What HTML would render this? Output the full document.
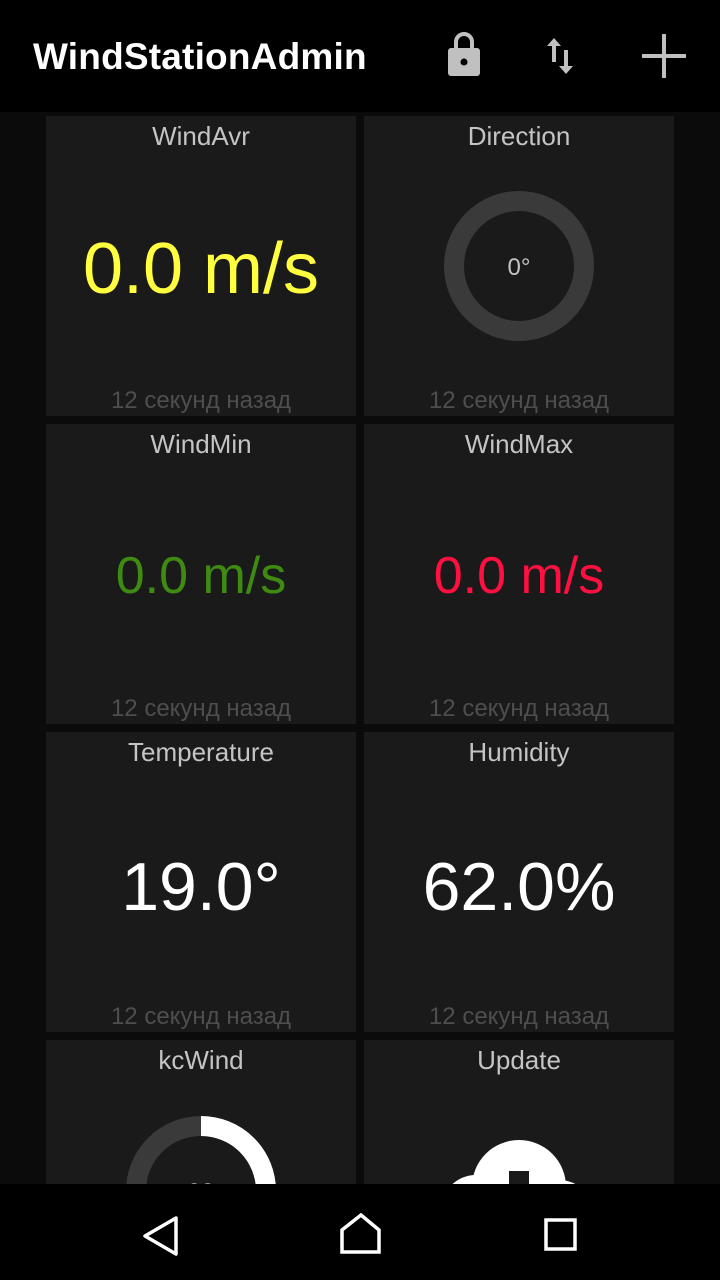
<!DOCTYPE html>
<html><head><meta charset="utf-8"><style>
html,body{margin:0;width:720px;height:1280px;overflow:hidden}
body{background:#0b0b0b;position:relative;font-family:"Liberation Sans",sans-serif}
#root{position:absolute;left:0;top:0;width:720px;height:1280px;overflow:hidden}
.top{position:absolute;left:0;top:0;width:720px;height:112px;background:#000}
.title{position:absolute;left:33px;top:36px;color:#fff;font-size:37px;font-weight:bold;letter-spacing:0.2px}
.tile{position:absolute;width:310px;height:300px;background:#1a1a1a;overflow:hidden}
.tt{position:absolute;top:5px;width:100%;text-align:center;color:#c4c4c4;font-size:26px}
.ft{position:absolute;top:271px;width:100%;text-align:center;color:#4e4e4e;font-size:24px}
.val{position:absolute;width:100%;text-align:center}
.nav{position:absolute;left:0;top:1184px;width:720px;height:96px;background:#000}
</style></head><body><div id="root">
<div class="top">
<div class="title">WindStationAdmin</div>
<svg style="position:absolute;left:440px;top:30px" width="260" height="52">
<g><path d="M16 18 v-6 a8 8 0 0 1 16 0 v6" fill="none" stroke="#c0c0c0" stroke-width="4"/><rect x="8" y="18" width="32" height="28" rx="3" fill="#c0c0c0"/><circle cx="24" cy="32" r="3.5" fill="#000"/></g>
<g fill="#c0c0c0"><path d="M114 8 l-7 8 h5 v16 h4 v-16 h5z"/><path d="M126 44 l-7 -8 h5 v-16 h4 v16 h5z"/></g>
<g fill="#c0c0c0"><rect x="222" y="4" width="4" height="44"/><rect x="202" y="24" width="44" height="4"/></g>
</svg>
</div>

<div class="tile" style="left:46px;top:116px">
<div class="tt">WindAvr</div>
<div class="val" style="top:112px;font-size:72px;color:#ffff40">0.0 m/s</div>
<div class="ft">12 секунд назад</div></div>

<div class="tile" style="left:364px;top:116px">
<div class="tt">Direction</div>
<svg style="position:absolute;left:0;top:0" width="310" height="300"><circle cx="155" cy="150" r="65" fill="none" stroke="#3a3a3a" stroke-width="20"/><text x="155" y="159" text-anchor="middle" fill="#c4c4c4" font-size="24" font-family="Liberation Sans">0°</text></svg>
<div class="ft">12 секунд назад</div></div>

<div class="tile" style="left:46px;top:424px">
<div class="tt">WindMin</div>
<div class="val" style="top:122px;font-size:52px;color:#3f8a10">0.0 m/s</div>
<div class="ft">12 секунд назад</div></div>

<div class="tile" style="left:364px;top:424px">
<div class="tt">WindMax</div>
<div class="val" style="top:122px;font-size:52px;color:#ff1040">0.0 m/s</div>
<div class="ft">12 секунд назад</div></div>

<div class="tile" style="left:46px;top:732px">
<div class="tt">Temperature</div>
<div class="val" style="top:116px;font-size:68px;color:#fff">19.0°</div>
<div class="ft">12 секунд назад</div></div>

<div class="tile" style="left:364px;top:732px">
<div class="tt">Humidity</div>
<div class="val" style="top:116px;font-size:68px;color:#fff">62.0%</div>
<div class="ft">12 секунд назад</div></div>

<div class="tile" style="left:46px;top:1040px">
<div class="tt">kcWind</div>
<svg style="position:absolute;left:0;top:0" width="310" height="300"><circle cx="155" cy="151" r="65" fill="none" stroke="#3a3a3a" stroke-width="20"/><path d="M155 86 A65 65 0 0 1 220 151 L220 170" fill="none" stroke="#fff" stroke-width="20"/><text x="155" y="160" text-anchor="middle" fill="#c4c4c4" font-size="24" font-family="Liberation Sans">90</text></svg>
</div>

<div class="tile" style="left:364px;top:1040px">
<div class="tt">Update</div>
<svg style="position:absolute;left:0;top:0" width="310" height="300"><circle cx="155" cy="147" r="47" fill="#fff"/><circle cx="112" cy="170" r="35" fill="#fff"/><circle cx="195" cy="175" r="35" fill="#fff"/><rect x="145" y="131" width="20" height="40" fill="#1a1a1a"/></svg>
</div>

<div class="nav">
<svg width="720" height="96">
<path d="M176 34 L145 52 L176 70 Z" fill="none" stroke="#fff" stroke-width="3.5" stroke-linejoin="round"/>
<path d="M342 68 V46 L361 31 L379 46 V68 Z" fill="none" stroke="#fff" stroke-width="3.5"/>
<rect x="546" y="36" width="29" height="29" fill="none" stroke="#fff" stroke-width="3.5"/>
</svg></div>
</div></body></html>
